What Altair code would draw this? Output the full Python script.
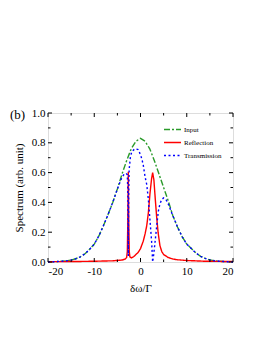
import altair as alt
import pandas as pd

# ---- data ----
x_input = [-20, -18, -16, -15, -14, -13, -12, -11, -10, -9, -8, -7, -6, -5, -4, -3, -2, -1, 0,
           1, 2, 3, 4, 5, 6, 7, 8, 9, 10, 11, 12, 13, 14, 15, 16, 18, 20]
y_input = [0.0, 0.003, 0.008, 0.013, 0.022, 0.035, 0.055, 0.085, 0.12, 0.175, 0.245, 0.32, 0.40, 0.49, 0.59, 0.68, 0.76, 0.81, 0.83,
           0.81, 0.76, 0.68, 0.59, 0.50, 0.41, 0.31, 0.235, 0.17, 0.12, 0.09, 0.06, 0.038, 0.024, 0.014, 0.008, 0.003, 0.0]

x_refl = [-20, -15, -10, -6, -4, -3.3, -3.0, -2.85, -2.75, -2.64, -2.53, -2.43, -2.3, -2.0, -1.5, -1.0, -0.5, 0,
          0.6, 1.0, 1.33, 1.7, 2.05, 2.4, 2.63, 2.9, 3.2, 3.5, 3.8, 4.2, 4.6, 5.0, 6.0, 7, 8, 10, 14, 20]
y_refl = [0.002, 0.003, 0.005, 0.008, 0.013, 0.02, 0.03, 0.07, 0.25, 0.606, 0.25, 0.07, 0.035, 0.028, 0.035, 0.05, 0.065, 0.09,
          0.14, 0.19, 0.24, 0.33, 0.46, 0.56, 0.60, 0.55, 0.42, 0.30, 0.20, 0.11, 0.07, 0.05, 0.03, 0.02, 0.015, 0.01, 0.005, 0.003]

x_trans = [-20, -18, -16, -15, -14, -13, -12, -11, -10, -9, -8, -7, -6, -5, -4.5, -4, -3.5, -3.1, -2.85, -2.72, -2.64,
           -2.56, -2.45, -2.2, -1.9, -1.2, -0.5, 0, 0.3, 0.6, 1.0, 1.35, 1.7, 2.05, 2.4, 2.63, 2.85, 3.1, 3.5, 3.85,
           4.2, 4.6, 5.0, 5.5, 6.0, 6.5, 7.0, 8, 9, 10, 11, 12, 13, 14, 15, 16, 18, 20]
y_trans = [0.0, 0.003, 0.008, 0.013, 0.022, 0.035, 0.055, 0.085, 0.12, 0.175, 0.245, 0.32, 0.40, 0.49, 0.53, 0.57, 0.59, 0.595, 0.585, 0.45, 0.04,
           0.45, 0.62, 0.70, 0.74, 0.76, 0.755, 0.72, 0.69, 0.65, 0.57, 0.52, 0.42, 0.28, 0.14, 0.0, 0.05, 0.12, 0.24, 0.34,
           0.39, 0.42, 0.43, 0.42, 0.39, 0.35, 0.31, 0.235, 0.17, 0.12, 0.09, 0.06, 0.038, 0.024, 0.014, 0.008, 0.003, 0.0]

series_names = ["Input", "Reflection", "Transmission"]
series_colors = ["#2a9a2a", "#ff0000", "#0000ff"]
series_dash = [[6, 2, 2, 2], [1, 0], [2, 2.5]]

x_major = [-20, -10, 0, 10, 20]
x_minor = [-15, -5, 5, 15]
y_major = [0.0, 0.2, 0.4, 0.6, 0.8, 1.0]
y_minor = [0.1, 0.3, 0.5, 0.7, 0.9]

W, H = 185, 149
FONT = "Liberation Serif"

df = pd.concat([
    pd.DataFrame({"x": x_input, "y": y_input, "series": "Input"}),
    pd.DataFrame({"x": x_refl, "y": y_refl, "series": "Reflection"}),
    pd.DataFrame({"x": x_trans, "y": y_trans, "series": "Transmission"}),
], ignore_index=True)

xs = alt.Scale(domain=[-20, 20], nice=False, zero=False)
ys = alt.Scale(domain=[0, 1], nice=False)

x_axis = alt.Axis(values=x_major, title="δω/Γ", ticks=False, domain=False, grid=False,
                  labelExpr="replace(datum.label, '\u2212', '-')",
                  labelPadding=3, titlePadding=6, labelFontSize=11, titleFontSize=11,
                  titleFontWeight="normal", labelColor="black", titleColor="black", labelFont=FONT, titleFont=FONT)
y_axis = alt.Axis(values=y_major, format=".1f", title="Spectrum (arb. unit)", ticks=False,
                  domain=False, grid=False, labelPadding=3, titlePadding=7,
                  labelFontSize=11, titleFontSize=11, titleFontWeight="normal",
                  labelColor="black", titleColor="black", labelFont=FONT, titleFont=FONT)

lines = alt.Chart(df).mark_line(strokeWidth=1.4).encode(
    x=alt.X("x:Q", scale=xs, axis=x_axis),
    y=alt.Y("y:Q", scale=ys, axis=y_axis),
    color=alt.Color("series:N", scale=alt.Scale(domain=series_names, range=series_colors),
                    legend=alt.Legend(title=None, orient="none", legendX=115, legendY=7,
                                      symbolType="stroke", symbolSize=289, symbolStrokeWidth=1.5,
                                      labelFontSize=7, labelFont=FONT, labelColor="black",
                                      rowPadding=-8.7, labelOffset=2, padding=0)),
    strokeDash=alt.StrokeDash("series:N", scale=alt.Scale(domain=series_names, range=series_dash)),
)


def xticks(vals, length):
    d = pd.DataFrame({"x": vals})
    b = alt.Chart(d).mark_rule(color="black", strokeWidth=1).encode(
        x=alt.X("x:Q", scale=xs, axis=x_axis), y=alt.value(H), y2=alt.value(H - length))
    t = alt.Chart(d).mark_rule(color="black", strokeWidth=1).encode(
        x=alt.X("x:Q", scale=xs, axis=x_axis), y=alt.value(0), y2=alt.value(length))
    return [b, t]


def yticks(vals, length):
    d = pd.DataFrame({"y": vals})
    l = alt.Chart(d).mark_rule(color="black", strokeWidth=1).encode(
        y=alt.Y("y:Q", scale=ys, axis=y_axis), x=alt.value(0), x2=alt.value(length))
    r = alt.Chart(d).mark_rule(color="black", strokeWidth=1).encode(
        y=alt.Y("y:Q", scale=ys, axis=y_axis), x=alt.value(W), x2=alt.value(W - length))
    return [l, r]


label = alt.Chart(pd.DataFrame({"t": ["(b)"]})).mark_text(
    align="left", baseline="middle", fontSize=13, font=FONT, color="black"
).encode(x=alt.value(-38), y=alt.value(2), text="t:N")

layers = [lines] + xticks(x_major, 4) + xticks(x_minor, 2.5) + yticks(y_major, 4) + yticks(y_minor, 2.5) + [label]

chart = alt.layer(*layers).properties(
    width=W, height=H,
    autosize=alt.AutoSizeParams(type="none"),
    padding={"left": 40, "top": 105, "right": 29, "bottom": 70},
    background="white",
).configure_view(stroke="black", strokeWidth=1.3).configure(font=FONT)

chart.save("out.html", embed_options={"renderer": "svg", "actions": False})
